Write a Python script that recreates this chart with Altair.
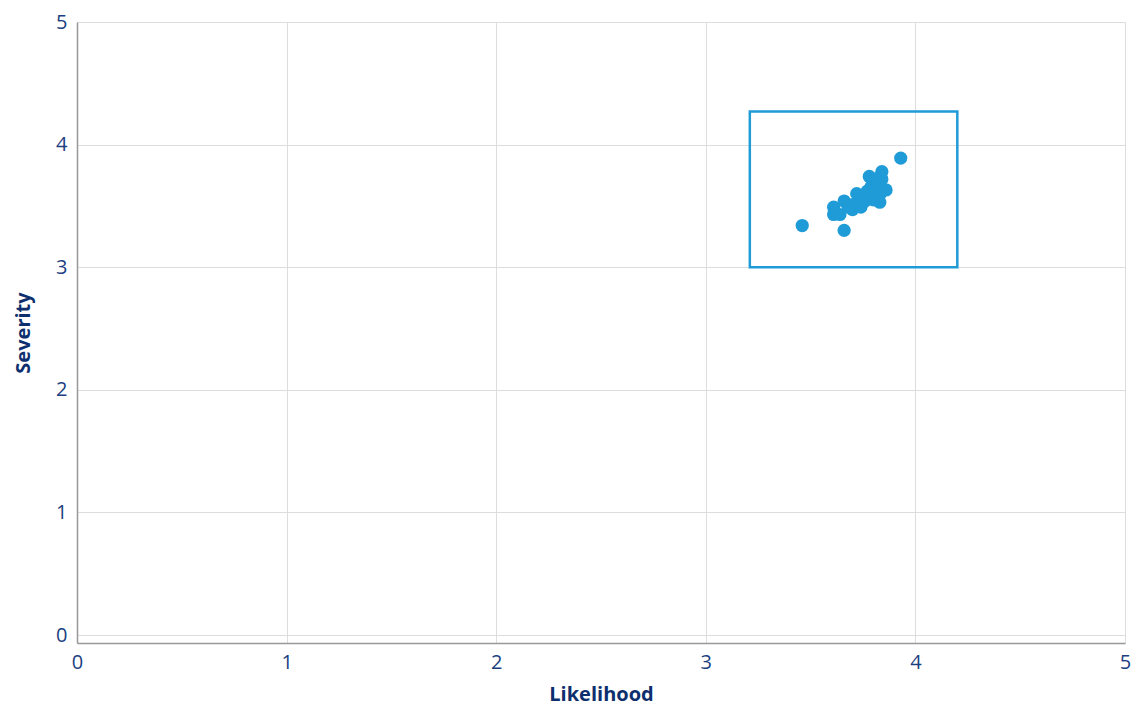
import altair as alt
import pandas as pd

likelihood = [3.46, 3.66, 3.93, 3.84, 3.78, 3.84, 3.61, 3.61, 3.64, 3.66, 3.70, 3.72, 3.74,
              3.83, 3.86, 3.76, 3.79, 3.81, 3.79, 3.82, 3.75, 3.70, 3.68, 3.80, 3.83, 3.77, 3.81]
severity = [3.34, 3.30, 3.89, 3.78, 3.74, 3.72, 3.49, 3.43, 3.43, 3.54, 3.47, 3.60, 3.49,
            3.53, 3.63, 3.54, 3.58, 3.62, 3.66, 3.68, 3.55, 3.51, 3.49, 3.55, 3.59, 3.62, 3.72]
box_x = [3.21, 4.20]
box_y = [3.00, 4.27]
ticks = [0, 1, 2, 3, 4, 5]

BLUE = "#1f9bd7"
NAVY = "#0e2f6e"
LABEL = "#1b3f80"

pts = pd.DataFrame({"Likelihood": likelihood, "Severity": severity})
box = pd.DataFrame({"x": [box_x[0]], "x2": [box_x[1]], "y": [box_y[0]], "y2": [box_y[1]]})

xscale = alt.Scale(domain=[0, 5], nice=False, zero=False)
yscale = alt.Scale(domain=[-0.065, 5], nice=False, zero=False)

xaxis = alt.Axis(values=ticks, title="Likelihood", grid=True, ticks=False, labelFlush=False,
                 labelPadding=9, titleY=51, titleBaseline="middle")
yaxis = alt.Axis(values=ticks, title="Severity", grid=True, ticks=False, labelFlush=False,
                 labelPadding=10, titlePadding=22)

rect = alt.Chart(box).mark_rect(fill=None, stroke=BLUE, strokeWidth=2.5).encode(
    x=alt.X("x:Q", scale=xscale, axis=xaxis),
    x2="x2:Q",
    y=alt.Y("y:Q", scale=yscale, axis=yaxis),
    y2="y2:Q",
)

points = alt.Chart(pts).mark_circle(color=BLUE, opacity=1, size=175).encode(
    x=alt.X("Likelihood:Q", scale=xscale, axis=xaxis),
    y=alt.Y("Severity:Q", scale=yscale, axis=yaxis),
)

chart = alt.layer(rect, points).properties(
    width=1048, height=621,
    autosize=alt.AutoSizeParams(type="none"),
    padding={"left": 69, "top": 14, "right": 7, "bottom": 62},
).configure_view(stroke=None).configure_axis(
    labelFont="Open Sans", labelFontSize=20, labelColor=LABEL,
    titleFont="Open Sans", titleFontSize=20, titleFontWeight="bold", titleColor=NAVY,
    gridColor="#dddddd", gridWidth=1, domainColor="#999999", domainWidth=1.5,
)

chart.save("out.html", embed_options={"renderer": "svg", "actions": False})
